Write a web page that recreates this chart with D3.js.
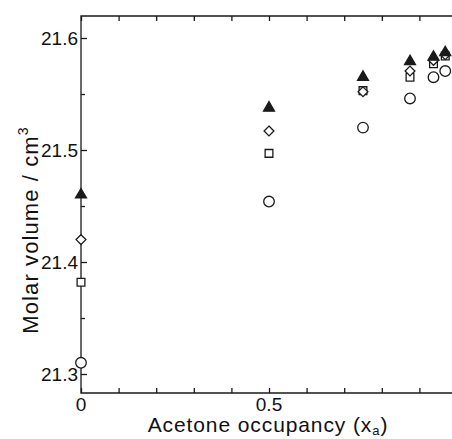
<!DOCTYPE html>
<html>
<head>
<meta charset="utf-8">
<script src="https://cdn.jsdelivr.net/npm/d3@7"></script>
<style>
  html, body { margin: 0; padding: 0; background: #fff; }
  svg { display: block; }
  text { font-family: "Liberation Sans", Arial, sans-serif; fill: #111; }
</style>
</head>
<body>
<svg id="chart" width="452" height="439"></svg>
<script>
// Acetone occupancy (mole fraction of cages holding acetone)
const occupancy = [0, 0.5, 0.75, 0.875, 0.9375, 0.96875];

// Molar volume (cm^3) for each data set
const triangleSeries = [21.460, 21.5375, 21.565, 21.579, 21.583, 21.587];
const diamondSeries  = [21.420, 21.517, 21.552, 21.5705, 21.580, 21.585];
const squareSeries   = [21.382, 21.497, 21.553, 21.565, 21.577, 21.584];
const circleSeries   = [21.310, 21.454, 21.520, 21.546, 21.565, 21.5705];

const xMajorTicks = [0, 0.5];
const xMinorTicks = [0.1, 0.2, 0.3, 0.4, 0.6, 0.7, 0.8, 0.9];
const yMajorTicks = [21.3, 21.4, 21.5, 21.6];
const yMinorTicks = [21.35, 21.45, 21.55];

const svg = d3.select("#chart");
const plotLeft = 81, plotTop = 16, plotBottom = 393, plotRight = 457;

const x = d3.scaleLinear().domain([0, 1]).range([plotLeft, plotRight]);
const y = d3.scaleLinear().domain([21.3, 21.6]).range([374, 38]);

const ink = "#1a1a1a";

// Frame: left, top and bottom spines (plot runs past the right edge)
svg.append("path")
  .attr("d", `M${plotRight + 10},${plotTop}H${plotLeft}V${plotBottom}H${plotRight + 10}`)
  .attr("stroke", ink).attr("stroke-width", 1.3).attr("fill", "none");

// Inward ticks on the bottom and top spines
const bottomAxis = svg.append("g").attr("transform", `translate(0,${plotBottom})`)
  .call(d3.axisTop(x).tickValues(xMajorTicks.concat(xMinorTicks)).tickSize(5).tickFormat(""));
const topAxis = svg.append("g").attr("transform", `translate(0,${plotTop})`)
  .call(d3.axisBottom(x).tickValues(xMajorTicks.concat(xMinorTicks)).tickSize(5).tickFormat(""));
// Inward ticks on the left spine
const leftAxis = svg.append("g").attr("transform", `translate(${plotLeft},0)`)
  .call(d3.axisRight(y).tickValues(yMajorTicks).tickSize(6).tickFormat(""));
const leftMinor = svg.append("g").attr("transform", `translate(${plotLeft},0)`)
  .call(d3.axisRight(y).tickValues(yMinorTicks).tickSize(4).tickFormat(""));

[bottomAxis, topAxis, leftAxis, leftMinor].forEach(g => {
  g.select(".domain").remove();
  g.selectAll("line").attr("stroke", ink).attr("stroke-width", 1.3);
});

// Tick labels
svg.append("g").selectAll("text").data(xMajorTicks).join("text")
  .attr("x", d => x(d)).attr("y", plotBottom + 18)
  .attr("text-anchor", "middle").attr("font-size", 19)
  .text(d => d === 0 ? "0" : d3.format(".1f")(d));

svg.append("g").selectAll("text").data(yMajorTicks).join("text")
  .attr("x", plotLeft - 3).attr("y", d => y(d) + 7)
  .attr("text-anchor", "end").attr("font-size", 19)
  .text(d => d3.format(".1f")(d));

// Axis titles
const xTitle = svg.append("text")
  .attr("x", 268).attr("y", 432)
  .attr("text-anchor", "middle").attr("font-size", 21)
  .attr("letter-spacing", 0.9);
xTitle.append("tspan").text("Acetone occupancy (x");
xTitle.append("tspan").attr("font-size", 13).attr("dy", 3).text("a");
xTitle.append("tspan").attr("dy", -3).text(")");

const yTitle = svg.append("text")
  .attr("transform", "translate(38,230) rotate(-90)")
  .attr("text-anchor", "middle").attr("font-size", 22)
  .attr("letter-spacing", 1.1);
yTitle.append("tspan").text("Molar volume / cm");
yTitle.append("tspan").attr("font-size", 14).attr("dy", -10).text("3");

// Square diamond (45°-rotated square), wider than d3's built-in diamond
const squareDiamond = {
  draw(context, size) {
    const r = Math.sqrt(size / 2);
    context.moveTo(0, -r);
    context.lineTo(r, 0);
    context.lineTo(0, r);
    context.lineTo(-r, 0);
    context.closePath();
  }
};

// Markers
const marks = svg.append("g");
const symbols = [
  { data: circleSeries,   type: d3.symbolCircle,   size: 88, fill: "#fff" },
  { data: squareSeries,   type: d3.symbolSquare,   size: 60, fill: "#fff" },
  { data: diamondSeries,  type: squareDiamond,     size: 48, fill: "#fff" },
  { data: triangleSeries, type: d3.symbolTriangle, size: 52, fill: ink }
];
symbols.forEach(s => {
  const gen = d3.symbol().type(s.type).size(s.size);
  marks.append("g").selectAll("path").data(s.data).join("path")
    .attr("transform", (d, i) => `translate(${x(occupancy[i])},${y(d)})`)
    .attr("d", gen)
    .attr("fill", s.fill)
    .attr("stroke", ink)
    .attr("stroke-width", 1.3);
});
</script>
</body>
</html>
